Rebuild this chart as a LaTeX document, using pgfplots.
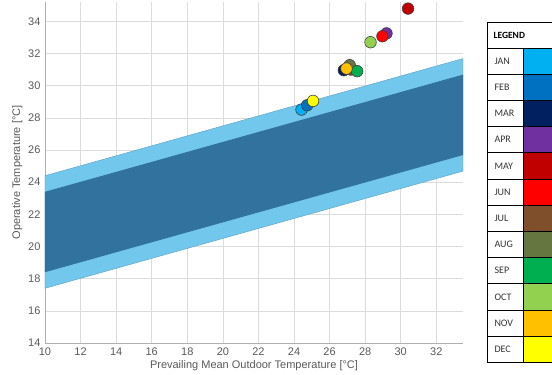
\documentclass[border=0pt]{standalone}
\usepackage{pgfplots}
\pgfplotsset{compat=1.18}
\usepackage{fontspec}
\setmainfont{Liberation Sans}
\newfontfamily\legfont{Carlito}
\definecolor{cJAN}{HTML}{00B0F0}
\definecolor{cFEB}{HTML}{0070C0}
\definecolor{cMAR}{HTML}{002060}
\definecolor{cAPR}{HTML}{7030A0}
\definecolor{cMAY}{HTML}{C00000}
\definecolor{cJUN}{HTML}{FF0000}
\definecolor{cJUL}{HTML}{7F4F2C}
\definecolor{cAUG}{HTML}{657640}
\definecolor{cSEP}{HTML}{00B050}
\definecolor{cOCT}{HTML}{92D050}
\definecolor{cNOV}{HTML}{FFC000}
\definecolor{cDEC}{HTML}{FFFF00}
\definecolor{bandout}{HTML}{72C7EC}
\definecolor{bandin}{HTML}{31739E}
\definecolor{gridc}{HTML}{DCDCDC}
\definecolor{txtc}{HTML}{595959}
\begin{document}
\begin{tikzpicture}
\useasboundingbox (0pt,0pt) rectangle (552pt,375pt);
\begin{axis}[
  at={(45pt,32pt)}, anchor=south west,
  scale only axis, width=418pt, height=341pt,
  xmin=10, xmax=33.5, ymin=14, ymax=35.2,
  xtick={10,12,...,32}, ytick={14,16,...,34},
  grid=major, major grid style={gridc, line width=0.6pt},
  axis lines*=left,
  axis line style={draw=gridc!80!black, line width=0.6pt},
  tick style={draw=none},
  tick label style={font=\fontsize{11}{13}\selectfont, text=txtc},
  xticklabel style={yshift=-1.5pt},
  yticklabel style={xshift=-1pt},
  /pgf/number format/assume math mode=true,
  xlabel={Prevailing Mean Outdoor Temperature [°C]},
  ylabel={Operative Temperature [°C]},
  label style={font=\fontsize{11}{13}\selectfont, text=txtc},
  xlabel style={yshift=2pt},
  ylabel style={yshift=-1pt},
  clip=false,
]
\addplot[fill=bandout, draw=bandout!80!black, line width=0.4pt] coordinates {(10,17.4) (33.5,24.685) (33.5,31.685) (10,24.4)} -- cycle;
\addplot[fill=bandin, draw=none] coordinates {(10,18.4) (33.5,25.685) (33.5,30.685) (10,23.4)} -- cycle;
\pgfplotsset{pt/.style={only marks, mark=*, mark size=5.8pt, mark options={draw=black!75, line width=0.6pt, fill=#1}}}
\addplot[pt=cJAN] coordinates {(24.42,28.51)};
\addplot[pt=cFEB] coordinates {(24.74,28.78)};
\addplot[pt=cMAR] coordinates {(26.8,30.96)};
\addplot[pt=cAPR] coordinates {(29.2,33.25)};
\addplot[pt=cMAY] coordinates {(30.41,34.79)};
\addplot[pt=cJUN] coordinates {(28.97,33.07)};
\addplot[pt=cJUL] coordinates {(27.2,31.0)};
\addplot[pt=cAUG] coordinates {(27.13,31.27)};
\addplot[pt=cSEP] coordinates {(27.55,30.9)};
\addplot[pt=cOCT] coordinates {(28.3,32.7)};
\addplot[pt=cNOV] coordinates {(26.95,31.06)};
\addplot[pt=cDEC] coordinates {(25.07,29.05)};
\end{axis}
% legend table
\begin{scope}[x=1pt,y=1pt]
\def\lx{487}\def\mx{523}\def\rx{560}
\def\ytop{353}\def\yh{327}\def\rh{26.2}
\draw[line width=0.6pt] (\lx,\ytop) rectangle (\rx,\yh);
\node[anchor=west, font=\legfont\fontsize{9.5}{10}\selectfont\bfseries] at (\lx+3,{(\ytop+\yh)/2}) {LEGEND};
\foreach \m [count=\i] in {JAN,FEB,MAR,APR,MAY,JUN,JUL,AUG,SEP,OCT,NOV,DEC}{
  \pgfmathsetmacro\ya{\yh-(\i-1)*\rh}
  \pgfmathsetmacro\yb{\yh-\i*\rh}
  \fill[c\m] (\mx,\ya) rectangle (\rx,\yb);
  \draw[line width=0.6pt] (\lx,\ya) rectangle (\mx,\yb);
  \draw[line width=0.6pt] (\mx,\ya) rectangle (\rx,\yb);
  \node[anchor=west, font=\legfont\fontsize{10}{11}\selectfont, text=black!80] at (\lx+4,{(\ya+\yb)/2}) {\m};
}
\end{scope}
\end{tikzpicture}
\end{document}
